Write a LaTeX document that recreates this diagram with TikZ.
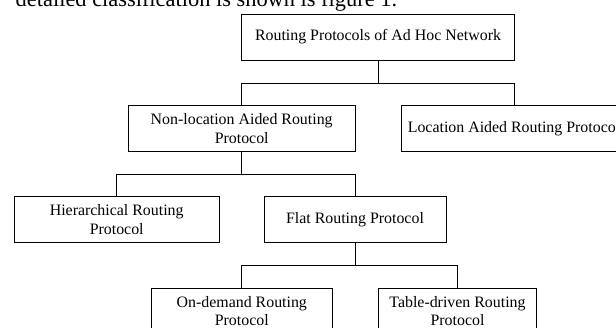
\documentclass[tikz,border=0pt]{standalone}
\usepackage{fontspec}
\setmainfont{Liberation Serif}

\tikzset{
  proto/.style={draw, line width=0.8pt, inner sep=0pt, align=center,
    minimum height=45.5pt, font=\fontsize{15.9}{18.7}\selectfont},
}

\begin{document}
\begin{tikzpicture}[x=1pt, y=-1pt, line width=0.8pt]
		\useasboundingbox (0, 0) rectangle (616, 327);
		\node[anchor=base west, font=\fontsize{22.4}{26}\selectfont] (caption) at (12, 6) {detailed classification is shown is figure 1.};
		% tree of protocol boxes
		\node[proto, minimum width=272.3pt, minimum height=46pt] (root) at (378, 37) {Routing Protocols of Ad Hoc Network};
		\node[proto, minimum width=227.5pt] (nonloc) at (241.7, 128.4) {Non-location Aided Routing\\Protocol};
		\node[proto, minimum width=226pt] (loc) at (514, 128.4) {Location Aided Routing Protocol};
		\node[proto, minimum width=204.7pt] (hier) at (116.7, 219.5) {Hierarchical Routing\\Protocol};
		\node[proto, minimum width=182pt] (flat) at (355, 219.5) {Flat Routing Protocol};
		\node[proto, minimum width=181.7pt] (ondemand) at (241.8, 311) {On-demand Routing\\Protocol};
		\node[proto, minimum width=158.4pt] (table) at (457.5, 311) {Table-driven Routing\\Protocol};
		% elbow connectors
		\draw (root.south) -- ++(0, 23) coordinate (fork1);
		\draw (fork1) -| (nonloc.north);
		\draw (fork1) -| (loc.north);
		\draw (nonloc.south) -- ++(0, 22.8) coordinate (fork2);
		\draw (fork2) -| (hier.north);
		\draw (fork2) -| (flat.north);
		\draw (flat.south) -- ++(0, 22.7) coordinate (fork3);
		\draw (fork3) -| (ondemand.north);
		\draw (fork3) -| (table.north);
	\end{tikzpicture}
\end{document}
